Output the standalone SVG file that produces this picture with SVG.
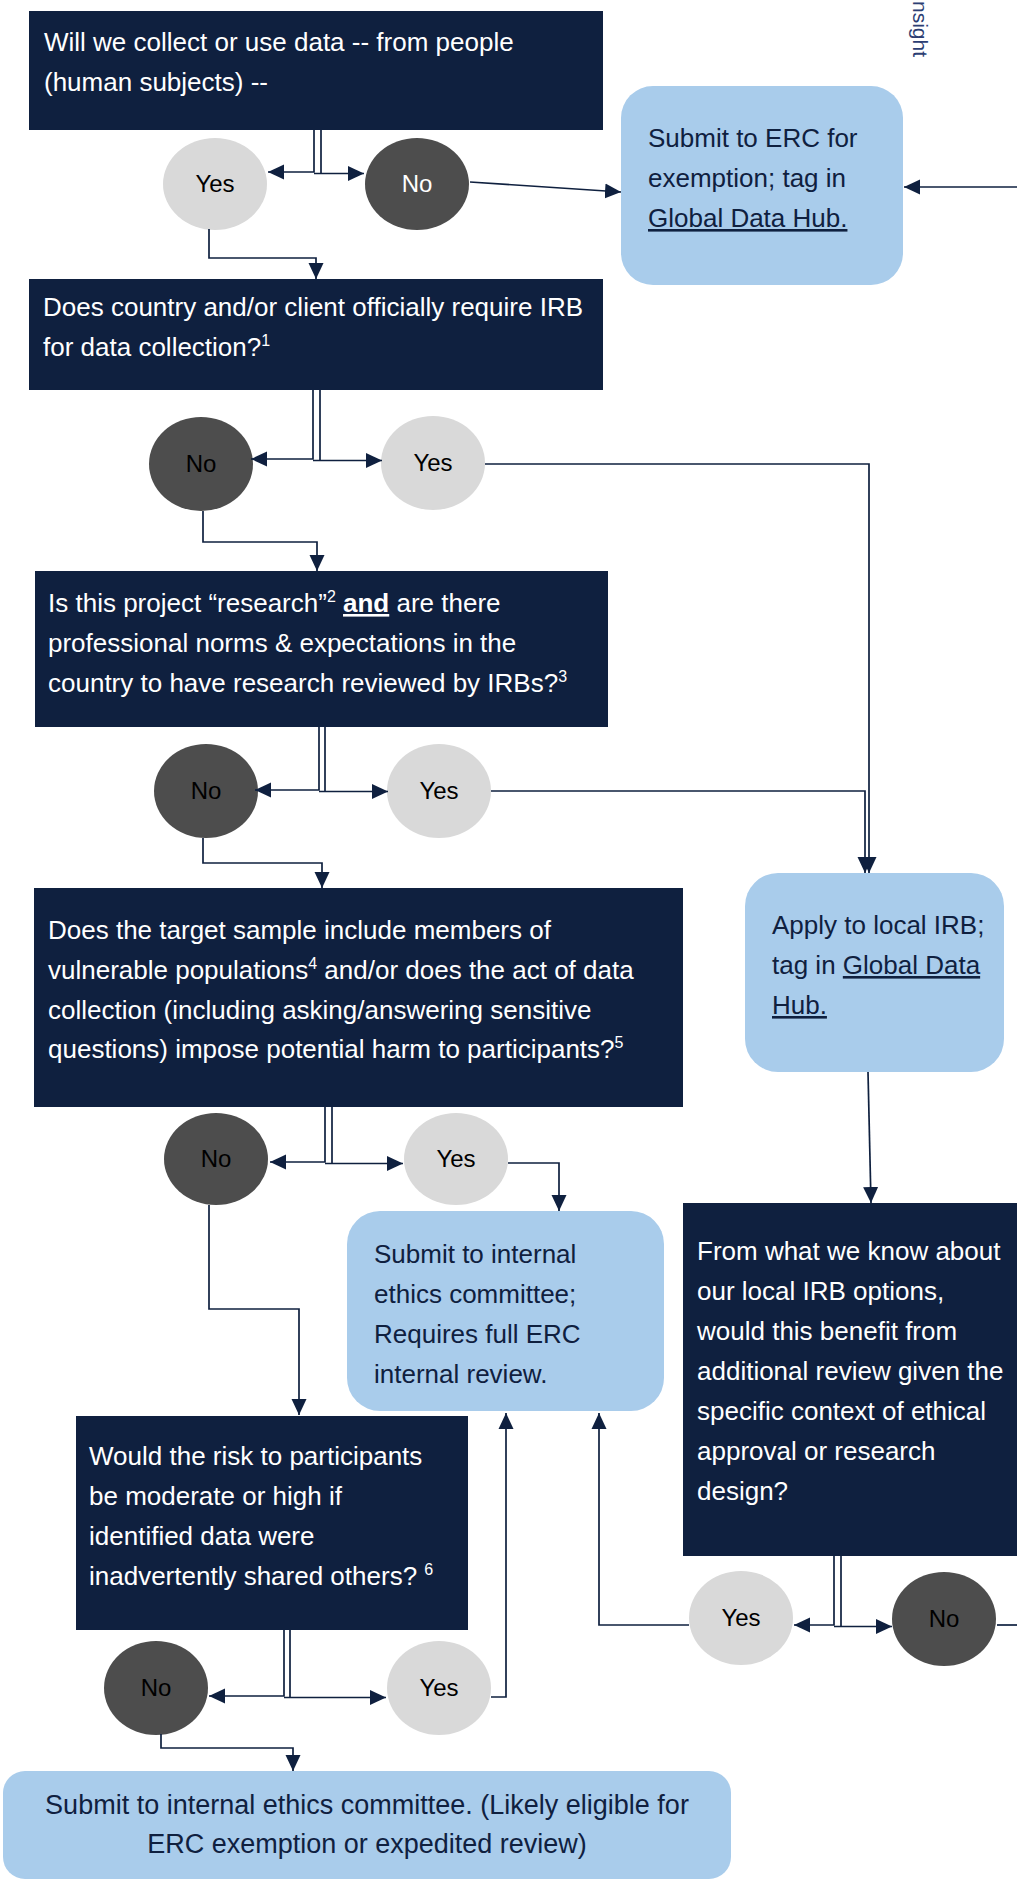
<svg xmlns="http://www.w3.org/2000/svg" width="1017" height="1881" viewBox="0 0 1017 1881">
<style>
text{font-family:"Liberation Sans",Arial,sans-serif}
.q{fill:#0F203F}
.a{fill:#A9CCEB}
.yes{fill:#D9D9D9}
.no{fill:#4D4D4D}
.qt{fill:#FFFFFF;font-size:26px}
.at{fill:#0F203F;font-size:26px}
.et{font-size:24px;text-anchor:middle;fill:#000000}
.sup{font-size:16px}
.u{text-decoration:underline}
.c{fill:none;stroke:#0F203F;stroke-width:1.7}
.arr{marker-end:url(#ah)}
</style>
<defs>
<marker id="ah" viewBox="0 0 16 16" refX="16" refY="8" markerWidth="16" markerHeight="16" markerUnits="userSpaceOnUse" orient="auto">
<path d="M0,0.5 L16,8 L0,15.5 z" fill="#0F203F"/>
</marker>
</defs>
<rect width="1017" height="1881" fill="#FFFFFF"/>

<text transform="translate(913,1) rotate(90)" font-size="21" fill="#2C3E73">nsight</text>

<g id="q1">
<rect class="q" x="29" y="11" width="574" height="119"/>
<text class="qt" x="44" y="51">Will we collect or use data -- from people</text>
<text class="qt" x="44" y="91">(human subjects) --</text>
</g>

<g id="y1"><ellipse class="yes" cx="215" cy="184" rx="52" ry="46"/><text class="et" x="215" y="192">Yes</text></g>
<g id="n1"><ellipse class="no" cx="417" cy="184" rx="52" ry="46"/><text class="et" x="417" y="192" style="fill:#FFFFFF">No</text></g>

<g id="erc">
<rect class="a" x="621" y="86" width="282" height="199" rx="32"/>
<text class="at" x="648" y="147">Submit to ERC for</text>
<text class="at" x="648" y="187">exemption; tag in</text>
<text class="at" x="648" y="227"><tspan class="u">Global Data Hub.</tspan></text>
</g>

<g id="q2">
<rect class="q" x="29" y="279" width="574" height="111"/>
<text class="qt" x="43" y="316">Does country and/or client officially require IRB</text>
<text class="qt" x="43" y="356">for data collection?<tspan class="sup" dy="-10">1</tspan></text>
</g>

<g id="n2"><ellipse class="no" cx="201" cy="464" rx="52" ry="47"/><text class="et" x="201" y="472">No</text></g>
<g id="y2"><ellipse class="yes" cx="433" cy="463" rx="52" ry="47"/><text class="et" x="433" y="471">Yes</text></g>

<g id="q3">
<rect class="q" x="35" y="571" width="573" height="156"/>
<text class="qt" x="48" y="612">Is this project “research”<tspan class="sup" dy="-10">2</tspan><tspan dy="10"> </tspan><tspan font-weight="bold" class="u">and</tspan> are there</text>
<text class="qt" x="48" y="652">professional norms &amp; expectations in the</text>
<text class="qt" x="48" y="692">country to have research reviewed by IRBs?<tspan class="sup" dy="-10">3</tspan></text>
</g>

<g id="n3"><ellipse class="no" cx="206" cy="791" rx="52" ry="47"/><text class="et" x="206" y="799">No</text></g>
<g id="y3"><ellipse class="yes" cx="439" cy="791" rx="52" ry="47"/><text class="et" x="439" y="799">Yes</text></g>

<g id="apply">
<rect class="a" x="745" y="873" width="259" height="199" rx="33"/>
<text class="at" x="772" y="934">Apply to local IRB;</text>
<text class="at" x="772" y="974">tag in <tspan class="u">Global Data</tspan></text>
<text class="at" x="772" y="1014"><tspan class="u">Hub.</tspan></text>
</g>

<g id="q4">
<rect class="q" x="34" y="888" width="649" height="219"/>
<text class="qt" x="48" y="939">Does the target sample include members of</text>
<text class="qt" x="48" y="979">vulnerable populations<tspan class="sup" dy="-10">4</tspan><tspan dy="10"> and/or does the act of data</tspan></text>
<text class="qt" x="48" y="1019">collection (including asking/answering sensitive</text>
<text class="qt" x="48" y="1058">questions) impose potential harm to participants?<tspan class="sup" dy="-10">5</tspan></text>
</g>

<g id="n4"><ellipse class="no" cx="216" cy="1159" rx="52" ry="46"/><text class="et" x="216" y="1167">No</text></g>
<g id="y4"><ellipse class="yes" cx="456" cy="1159" rx="52" ry="46"/><text class="et" x="456" y="1167">Yes</text></g>

<g id="full">
<rect class="a" x="347" y="1211" width="317" height="200" rx="33"/>
<text class="at" x="374" y="1263">Submit to internal</text>
<text class="at" x="374" y="1303">ethics committee;</text>
<text class="at" x="374" y="1343">Requires full ERC</text>
<text class="at" x="374" y="1383">internal review.</text>
</g>

<g id="q6">
<rect class="q" x="683" y="1203" width="340" height="353"/>
<text class="qt" x="697" y="1260">From what we know about</text>
<text class="qt" x="697" y="1300">our local IRB options,</text>
<text class="qt" x="697" y="1340">would this benefit from</text>
<text class="qt" x="697" y="1380">additional review given the</text>
<text class="qt" x="697" y="1420">specific context of ethical</text>
<text class="qt" x="697" y="1460">approval or research</text>
<text class="qt" x="697" y="1500">design?</text>
</g>

<g id="q5">
<rect class="q" x="76" y="1416" width="392" height="214"/>
<text class="qt" x="89" y="1465">Would the risk to participants</text>
<text class="qt" x="89" y="1505">be moderate or high if</text>
<text class="qt" x="89" y="1545">identified data were</text>
<text class="qt" x="89" y="1585">inadvertently shared others? <tspan class="sup" dy="-10">6</tspan></text>
</g>

<g id="y6"><ellipse class="yes" cx="741" cy="1618" rx="52" ry="47"/><text class="et" x="741" y="1626">Yes</text></g>
<g id="n6"><ellipse class="no" cx="944" cy="1619" rx="52" ry="47"/><text class="et" x="944" y="1627">No</text></g>

<g id="n5"><ellipse class="no" cx="156" cy="1688" rx="52" ry="47"/><text class="et" x="156" y="1696">No</text></g>
<g id="y5"><ellipse class="yes" cx="439" cy="1688" rx="52" ry="47"/><text class="et" x="439" y="1696">Yes</text></g>

<g id="final">
<rect class="a" x="3" y="1771" width="728" height="108" rx="22"/>
<text class="at" x="367" y="1814" text-anchor="middle" style="font-size:27px">Submit to internal ethics committee. (Likely eligible for</text>
<text class="at" x="367" y="1853" text-anchor="middle" style="font-size:27px">ERC exemption or expedited review)</text>
</g>

<g id="connectors">
<path class="c arr" d="M314,130 V172 H268"/>
<path class="c arr" d="M321,130 V173.5 M314,173.5 H364"/>
<path class="c arr" d="M470,182 L621,192"/>
<path class="c arr" d="M1020,187 H904"/>
<path class="c arr" d="M209,229 V258 H316 V279"/>
<path class="c arr" d="M313,390 V459 H251"/>
<path class="c arr" d="M320,390 V460.5 M313,460.5 H382"/>
<path class="c arr" d="M485,464 H869 V873"/>
<path class="c arr" d="M203,511 V542 H317 V571"/>
<path class="c arr" d="M319,727 V790 H255"/>
<path class="c arr" d="M325,727 V791.5 M319,791.5 H388"/>
<path class="c arr" d="M491,791 H865 V873"/>
<path class="c arr" d="M203,838 V863 H322 V888"/>
<path class="c arr" d="M325,1107 V1162 H270"/>
<path class="c arr" d="M332,1107 V1163.5 M325,1163.5 H403"/>
<path class="c arr" d="M508,1163 H559 V1211"/>
<path class="c arr" d="M209,1205 V1309 H299 V1415"/>
<path class="c arr" d="M868,1072 L871,1203"/>
<path class="c arr" d="M284,1630 V1696 H209"/>
<path class="c arr" d="M290,1630 V1697.5 M284,1697.5 H386"/>
<path class="c arr" d="M491,1697 H506 V1413"/>
<path class="c arr" d="M834,1556 V1625 H794"/>
<path class="c arr" d="M841,1556 V1626.5 M834,1626.5 H892"/>
<path class="c arr" d="M689,1625 H599 V1413"/>
<path class="c" d="M997,1625 H1020"/>
<path class="c arr" d="M161,1734 V1748 H293 V1771"/>
</g>
</svg>
